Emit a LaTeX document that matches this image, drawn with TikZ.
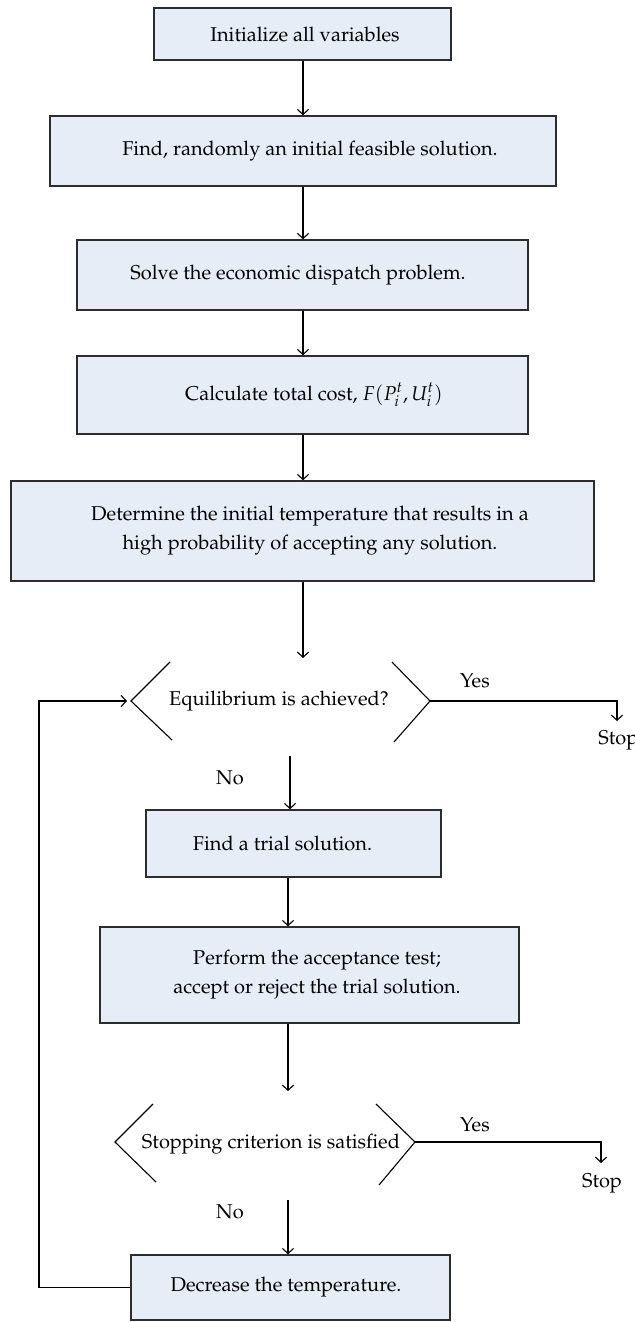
\documentclass[tikz,border=0pt]{standalone}
\usepackage[T1]{fontenc}
\usepackage{mathpazo}
\usetikzlibrary{arrows.meta}
\definecolor{boxfill}{RGB}{230,237,246}
\definecolor{linegray}{RGB}{45,45,45}
\begin{document}
\begin{tikzpicture}[x=0.5pt,y=-0.5pt,
  proc/.style={draw=linegray,line width=0.7pt,fill=boxfill,inner sep=0pt,align=center,font=\fontsize{10}{14.5}\selectfont},
  conn/.style={draw=black,line width=0.55pt,-{Straight Barb[length=2.6pt,width=5.6pt]}},
  lbl/.style={font=\fontsize{10}{12}\selectfont,inner sep=0pt},
  chev/.style={draw=black,line width=0.55pt}]
\useasboundingbox (0,0) rectangle (635,1322);
% process boxes
\node[proc,minimum width=148.5pt,minimum height=26pt] (b1) at (302.5,34) {\hspace*{2.5pt}Initialize all variables};
\node[proc,minimum width=253pt,minimum height=35pt] (b2) at (303,151) {\hspace*{7pt}Find, randomly an initial feasible solution.};
\node[proc,minimum width=225.5pt,minimum height=35pt] (b3) at (302.5,275) {Solve the economic dispatch problem.\hspace*{4.5pt}};
\node[proc,minimum width=225.5pt,minimum height=39pt] (b4) at (302.5,395) {\hspace*{11.5pt}Calculate total cost, $F(P_i^t,U_i^t)$};
\node[proc,minimum width=291.5pt,minimum height=50pt] (b5) at (302.5,531) {\hspace*{7.5pt}Determine the initial temperature that results in a\\\hspace*{7.5pt}high probability of accepting any solution.};
\node[proc,minimum width=147.5pt,minimum height=33.5pt] (b6) at (293.5,843.5) {Find a trial solution.\hspace*{11pt}};
\node[proc,minimum width=209.5pt,minimum height=48pt] (b7) at (309.5,975) {\hspace*{7.5pt}Perform the acceptance test;\\\hspace*{7.5pt}accept or reject the trial solution.};
\node[proc,minimum width=159.5pt,minimum height=32.5pt] (b8) at (290.5,1287.5) {Decrease the temperature.\hspace*{4.5pt}};
% decisions
\node[lbl] (d1) at (279,701) {Equilibrium is achieved?};
\draw[chev] (170,662) -- (131,701) -- (172,740);
\draw[chev] (392,662) -- (430,701) -- (394,742);
\coordinate (d1L) at (131,701);
\coordinate (d1R) at (430,701);
\node[lbl] (d2) at (271,1144) {Stopping criterion is satisfied};
\draw[chev] (153,1104) -- (115,1142) -- (156,1182);
\draw[chev] (376,1104) -- (415,1142) -- (379,1185);
\coordinate (d2R) at (415,1142);
% column coordinates
\coordinate (colA) at (303,0);
\coordinate (colB) at (290,0);
\coordinate (colC) at (288,0);
\coordinate (d1in) at (303,658);
\coordinate (d1out) at (290,756);
\coordinate (d2in) at (288,1091);
\coordinate (d2out) at (288,1200);
% labels
\node[lbl] (y1) at (475,681) {Yes};
\node[lbl,anchor=west] (s1) at (598,740) {Stop};
\node[lbl] (n1) at (230,778) {No};
\node[lbl] (y2) at (475,1125) {Yes};
\node[lbl] (s2) at (602,1183) {Stop};
\node[lbl] (n2) at (230,1212) {No};
\coordinate (s1top) at (617,721);
\coordinate (s2top) at (601,1163);
% connectors
\draw[conn] (b1.south -| colA) -- (b2.north -| colA);
\draw[conn] (b2.south -| colA) -- (b3.north -| colA);
\draw[conn] (b3.south -| colA) -- (b4.north -| colA);
\draw[conn] (b4.south -| colA) -- (b5.north -| colA);
\draw[conn] (b5.south -| colA) -- (d1in);
\draw[conn] (d1R) -| (s1top);
\draw[conn] (d1out) -- (b6.north -| colB);
\draw[conn] (b6.south -| colC) -- (b7.north -| colC);
\draw[conn] (b7.south -| colC) -- (d2in);
\draw[conn] (d2R) -| (s2top);
\draw[conn] (d2out) -- (b8.north -| colC);
\coordinate (loopx) at (39,0);
\draw[conn] (b8.west) -- (b8.west -| loopx) -- (d1L -| loopx) -- ([xshift=-2pt]d1L);
\end{tikzpicture}
\end{document}
